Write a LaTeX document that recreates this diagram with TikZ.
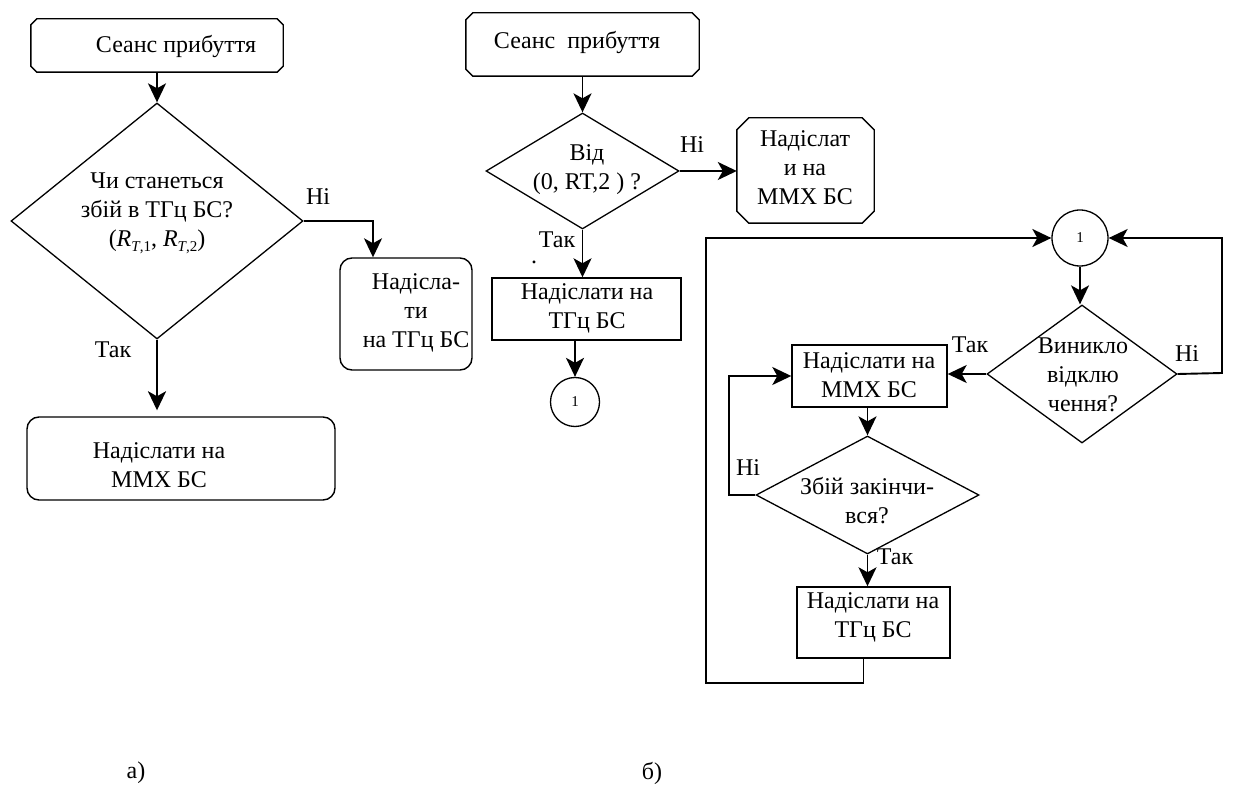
\documentclass[tikz,border=0pt]{standalone}
\usepackage{fontspec}
\setmainfont{Liberation Serif}
\usetikzlibrary{arrows.meta,shapes.geometric}
\newcommand{\mysub}[1]{\raisebox{-0.45ex}{\fontsize{15}{15}\selectfont #1}}
\newcommand{\chamf}[2]{\draw[box] ([xshift=#2]#1.north west) -- ([xshift=-#2]#1.north east) -- ([yshift=-#2]#1.north east) -- ([yshift=#2]#1.south east) -- ([xshift=-#2]#1.south east) -- ([xshift=#2]#1.south west) -- ([yshift=#2]#1.south west) -- ([yshift=-#2]#1.north west) -- cycle;}
\begin{document}
\begin{tikzpicture}[x=1pt,y=-1pt,
  font=\fontsize{24}{29}\selectfont,
  arr/.style={-{Stealth[length=19pt,width=18pt,inset=5pt]}, line width=1.9pt},
  box/.style={line width=1.4pt},
  rbox/.style={draw, line width=1.4pt, rectangle, inner sep=0pt},
  empt/.style={rectangle, inner sep=0pt},
  dia/.style={diamond, draw, line width=1.3pt, inner sep=0pt},
  txt/.style={align=center, inner sep=0pt},
  circ/.style={circle, draw, line width=1.3pt, inner sep=0pt}]
\useasboundingbox (0,0) rectangle (1259,799);

% ---------- a) ----------
\node[empt, minimum width=252pt, minimum height=53pt] (s1) at (157,45.5) {};
\chamf{s1}{6pt}
\node[txt] (s1t) at (176,47) {Сеанс прибуття};

\node[dia, minimum width=292pt, minimum height=236pt] (d1) at (157,221) {};
\node[txt] (d1t) at (157,213) {Чи станеться\\збій в ТГц БС?\\(\textit{R}\mysub{\textit{T},1}, \textit{R}\mysub{\textit{T},2})};

\node[rbox, rounded corners=12pt, minimum width=132pt, minimum height=112pt] (n1) at (406,314) {};
\node[txt] (n1t) at (416,313) {Надісла-\\ти\\на ТГц БС};

\node[rbox, rounded corners=12pt, minimum width=308pt, minimum height=83pt] (m1) at (181,458.5) {};
\node[txt] (m1t) at (159,465) {Надіслати на\\ММХ БС};

\draw[arr] (s1) -- (d1);
\draw[arr] (d1.east) -| ([xshift=-33pt]n1.north);
\draw[arr, line width=2.6pt, shorten >=6pt] (d1.south) -- (d1.south |- m1.north);
\node[txt] (l1) at (318,197) {Ні};
\node[txt] (l2) at (113,350) {Так};

% ---------- b) ----------
\node[empt, minimum width=233pt, minimum height=63pt] (s2) at (582.5,44.5) {};
\chamf{s2}{7pt}
\node[txt] (s2t) at (577,43) {Сеанс\ \ прибуття};

\node[dia, minimum width=193pt, minimum height=116pt] (d2) at (582.5,171) {};
\node[txt] (d2t) at (587,170) {Від\\(0, RT,2 ) ?};

\node[empt, minimum width=137pt, minimum height=105pt] (n2) at (805.5,170.5) {};
\chamf{n2}{12pt}
\node[txt] (n2t) at (805,168) {Надіслат\\и на\\ММХ БС};

\node[rbox, minimum width=189pt, minimum height=62pt] (t2) at (586.5,309) {};
\node[txt] (t2t) at (587,308) {Надіслати на\\ТГц БС};

\node[circ, minimum size=49pt] (c1) at (575,402) {\fontsize{15}{15}\selectfont 1};

\draw[arr] (s2.south -| d2.north) -- (d2.north);
\draw[arr] (d2.east) -- (d2.east -| n2.west);
\draw[arr] (d2.south) -- (d2.south |- t2.north);
\draw[arr] (c1.north |- t2.south) -- (c1.north);
\node[txt] (l3) at (692,145) {Ні};
\node[txt] (l4) at (557,240) {Так};
\node[txt] (l5) at (534,262) {.};

\node[circ, minimum size=56pt] (c2) at (1080,238) {\fontsize{15}{15}\selectfont 1};

\node[dia, minimum width=190pt, minimum height=138pt] (d3) at (1082,374) {};
\node[txt] (d3t) at (1083,375) {Виникло\\відклю\\чення?};

\node[rbox, minimum width=155pt, minimum height=62pt] (m2) at (869.5,376) {};
\node[txt] (m2t) at (869,375) {Надіслати на\\ММХ БС};

\node[dia, minimum width=223pt, minimum height=118pt] (d4) at (867.5,495) {};
\node[txt] (d4t) at (867,501) {Збій закінчи-\\вся?};

\node[rbox, minimum width=153pt, minimum height=71pt] (t3) at (873.5,622.5) {};
\node[txt] (t3t) at (873,617.5) {Надіслати на\\ТГц БС};

\coordinate (k1) at (729,495);
\coordinate (k2) at (706,683);
\coordinate (k3) at (1222,373);

\draw[arr] (c2.south) -- (c2.south |- d3.north);
\draw[arr] (d3.west) -- (d3.west -| m2.east);
\draw[arr] (d4.north |- m2.south) -- (d4.north);
\draw[arr] (d4.west) -- (k1) |- (m2.west);
\draw[arr] (d4.south) -- (d4.south |- t3.north);
\draw[arr] ([xshift=-10pt]t3.south) |- (k2) |- (c2.west);
\draw[arr] (d3.east) -- (k3) |- (c2.east);

\node[txt] (l6) at (970,345) {Так};
\node[txt] (l7) at (1187,354) {Ні};
\node[txt] (l8) at (748,468) {Ні};
\node[txt] (l9) at (895,557) {Так};

\node[txt] (la) at (136,773) {а)};
\node[txt] (lb) at (652,773) {б)};
\end{tikzpicture}
\end{document}
